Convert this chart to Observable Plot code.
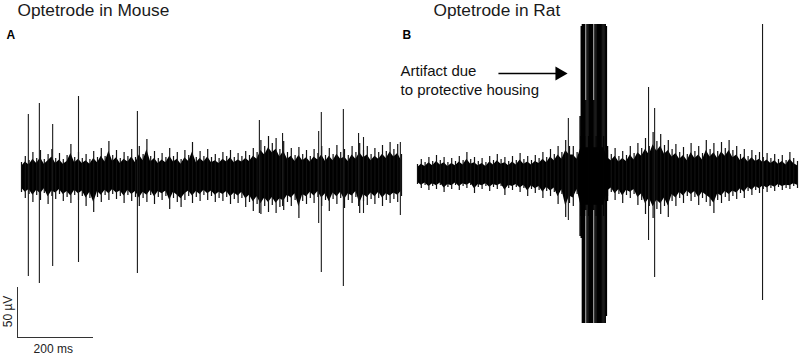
<!DOCTYPE html>
<html>
<head>
<meta charset="utf-8">
<script src="https://cdn.jsdelivr.net/npm/d3@7"></script>
<script src="https://cdn.jsdelivr.net/npm/@observablehq/plot@0.6"></script>
<style>
  body { margin: 0; background: #fff; }
  #wrap { position: relative; width: 800px; height: 356px; overflow: hidden; }
  #wrap > div { position: absolute; top: 0; }
</style>
</head>
<body>
<div id="wrap"><div id="a" style="left:0"></div><div id="b" style="left:401px"></div></div>
<script>
// ---- Data (time in ms, voltage in µV) ----
const sampleStep = 10; // envelope sampled every 10 ms, 0..1000 ms

// Mouse recording: upper / lower envelope of the noise band
const mouseTop = [14,20,16,24,18,26,17,22,27,18,23,17,21,32,19,24,18,22,17,25,19,28,20,35,21,26,18,24,20,27,19,30,22,37,20,25,18,23,19,28,20,24,17,26,21,34,19,25,20,27,19,22,18,24,20,26,19,23,20,25,21,28,24,36,30,40,33,38,27,35,24,28,21,29,22,26,20,27,23,30,21,28,22,31,24,27,21,30,24,33,26,30,22,28,24,31,25,34,27,32,22];
const mouseBottom = [-16,-22,-18,-26,-19,-24,-17,-28,-20,-23,-18,-25,-21,-27,-19,-24,-20,-30,-22,-36,-21,-26,-19,-24,-18,-23,-20,-27,-19,-25,-21,-30,-22,-26,-19,-28,-21,-24,-20,-33,-22,-26,-31,-24,-20,-27,-21,-25,-19,-24,-20,-26,-22,-25,-21,-28,-23,-27,-22,-31,-26,-35,-28,-38,-30,-36,-29,-37,-31,-34,-26,-30,-24,-42,-25,-28,-22,-27,-21,-30,-24,-35,-23,-28,-22,-32,-24,-27,-21,-37,-25,-29,-23,-28,-22,-30,-24,-27,-23,-26,-20];

// Mouse recording: isolated spikes
const mouseSpikeTime   = [18, 47, 82, 150, 305, 626, 687, 782, 789, 847, 887, 900, 997];
const mouseSpikeTop    = [62, 73, 52, 80, 65, 56, 43, 45, 64, 67, 43, 39, 34];
const mouseSpikeBottom = [-100, -107, -90, -86, -97, -37, -30, -47, -96, -110, -30, -37, -39];

// Rat recording: upper / lower envelope of the noise band
const ratTop = [12,17,14,19,15,21,16,19,14,18,15,20,16,24,17,19,15,18,14,20,16,22,17,19,15,20,16,23,17,20,16,21,18,24,19,27,22,30,24,36,30,30,24,40,40,40,40,40,40,40,26,22,28,20,25,21,30,23,33,28,38,30,44,35,42,31,36,27,32,24,29,22,33,25,30,23,36,27,33,25,34,28,36,26,30,22,27,20,26,21,24,19,23,18,22,17,21,16,24,18,15];
const ratBottom = [-8,-12,-9,-14,-10,-13,-9,-16,-11,-13,-9,-14,-10,-12,-9,-17,-11,-13,-10,-15,-11,-13,-10,-19,-12,-14,-11,-16,-12,-20,-13,-17,-14,-22,-15,-20,-16,-28,-18,-41,-27,-30,-18,-40,-40,-40,-40,-40,-40,-40,-20,-16,-24,-18,-27,-19,-22,-18,-29,-24,-38,-30,-42,-33,-38,-30,-41,-25,-30,-22,-27,-20,-25,-21,-29,-22,-26,-30,-37,-24,-27,-21,-25,-20,-23,-17,-22,-15,-19,-14,-17,-13,-16,-12,-15,-11,-14,-12,-13,-10,-12];

// Rat recording: isolated spikes
const ratSpikeTime   = [397, 608, 624, 908];
const ratSpikeTop    = [58, 89, 68, 152];
const ratSpikeBottom = [-44, -64, -101, -124];

// Rat recording: artifact caused by the protective housing
const artifactTime   = [428,431,434,437,440,443,446,449,452,455,458,461,464,467,470,473,476,479,482,485,488,491,494,497,500];
const artifactTop    = [60,150,152,152,152,76,152,152,152,152,152,152,76,152,152,152,152,152,152,152,152,152,152,150,30];
const artifactBottom = [-60,-62,-147,-147,-147,-34,-147,-147,-147,-147,-147,-147,-34,-147,-147,-147,-147,-147,-147,-147,-147,-147,-147,-140,-25];

// Text
const titles = ["Optetrode in Mouse", "Optetrode in Rat"];
const panelLetters = ["A", "B"];
const artifactNote = ["Artifact due", "to protective housing"];
const scaleBarTime = 200;   // ms
const scaleBarVolt = 50;    // µV
const scaleBarLabels = ["200 ms", "50 µV"];

// ---- Build tables ----
const envelope = (top, bottom) => top.map((v, i) => ({t: i * sampleStep, top: v, bottom: bottom[i]}));
const spikes = (ts, tops, bots) => ts.map((t, i) => ({t, top: tops[i], bottom: bots[i]}));

const mouseEnv = envelope(mouseTop, mouseBottom);
const ratEnv = envelope(ratTop, ratBottom);
const mouseSp = spikes(mouseSpikeTime, mouseSpikeTop, mouseSpikeBottom);
const ratSp = spikes(ratSpikeTime, ratSpikeTop, ratSpikeBottom);
const artifact = spikes(artifactTime, artifactTop, artifactBottom);

const font = "'Liberation Sans', Arial, Helvetica, sans-serif";
const common = {
  height: 356, marginTop: 0, marginBottom: 0,
  x: {domain: [0, 1000], axis: null},
  y: {domain: [-180, 176], axis: null},
  style: {fontFamily: font, background: "transparent", overflow: "visible"}
};

const coreShare = 0.72; // solid core of the noise band vs. its ragged fringe
function traceMarks(env, sp) {
  return [
    Plot.areaY(env, {x: "t", y1: d => d.bottom * coreShare, y2: d => d.top * coreShare, fill: "#000", curve: "linear"}),
    Plot.ruleX(env, {x: "t", y1: "bottom", y2: "top", stroke: "#111", strokeWidth: 1.2}),
    Plot.ruleX(sp, {x: "t", y1: "bottom", y2: "top", stroke: "#1a1a1a", strokeWidth: 1.1})
  ];
}

// scale bar anchored just left of the mouse trace, below it
const bar = {t0: -10.5, v0: -161};

const plotA = Plot.plot({
  ...common, width: 401, marginLeft: 21, marginRight: 0,
  marks: [
    ...traceMarks(mouseEnv, mouseSp),
    Plot.text([titles[0]], {x: () => -10.5, y: () => 166, text: d => d, textAnchor: "start", fontSize: 17.3, fill: "#1a1a1a"}),
    Plot.text([panelLetters[0]], {x: () => -39.5, y: () => 141, text: d => d, textAnchor: "start", fontSize: 12, fontWeight: "bold", fill: "#000"}),
    Plot.ruleX([bar], {x: "t0", y1: d => d.v0, y2: d => d.v0 + scaleBarVolt, stroke: "#333", strokeWidth: 1}),
    Plot.ruleY([bar], {y: "v0", x1: d => d.t0, x2: d => d.t0 + scaleBarTime, stroke: "#333", strokeWidth: 1}),
    Plot.text([scaleBarLabels[0]], {x: () => bar.t0 + 94, y: () => bar.v0 - 12, text: d => d, fontSize: 12, fill: "#222"}),
    Plot.text([scaleBarLabels[1]], {x: () => bar.t0 - 24, y: () => bar.v0 + 26, text: d => d, fontSize: 12, rotate: -90, fill: "#222"})
  ]
});

const plotB = Plot.plot({
  ...common, width: 399, marginLeft: 16, marginRight: 3,
  marks: [
    ...traceMarks(ratEnv, ratSp),
    Plot.ruleX(artifact, {x: "t", y1: "bottom", y2: "top", stroke: "#000", strokeWidth: 1.5}),
    Plot.text([titles[1]], {x: () => 42, y: () => 166, text: d => d, textAnchor: "start", fontSize: 17.3, fill: "#1a1a1a"}),
    Plot.text([panelLetters[1]], {x: () => -39.5, y: () => 141, text: d => d, textAnchor: "start", fontSize: 12, fontWeight: "bold", fill: "#000"}),
    Plot.text([artifactNote[0]], {x: () => -44.5, y: () => 105, text: d => d, textAnchor: "start", fontSize: 15, fill: "#111"}),
    Plot.text([artifactNote[1]], {x: () => -44.5, y: () => 86, text: d => d, textAnchor: "start", fontSize: 15, fill: "#111"}),
    Plot.link([{x1: 213, x2: 366, y: 103}], {x1: "x1", x2: "x2", y1: "y", y2: "y", stroke: "#000", strokeWidth: 1.5}),
    Plot.line([{t: 363, v: 110}, {t: 395, v: 103}, {t: 363, v: 96}], {x: "t", y: "v", fill: "#000", stroke: "none"})
  ]
});

document.getElementById("a").appendChild(plotA);
document.getElementById("b").appendChild(plotB);
</script>
</body>
</html>
